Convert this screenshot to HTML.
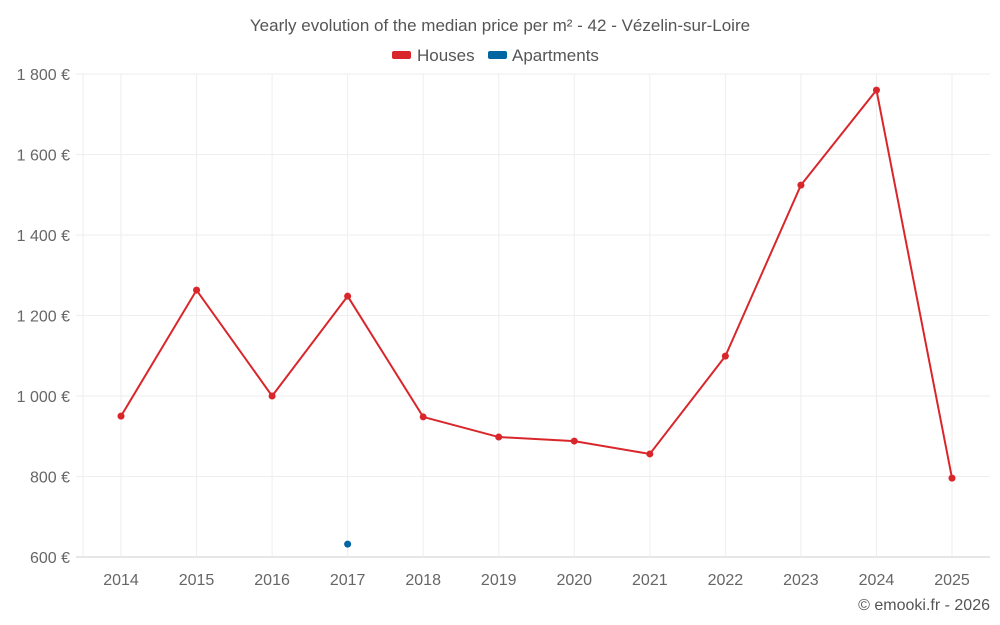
<!DOCTYPE html>
<html><head><meta charset="utf-8"><style>
body{margin:0;background:#fff;}
svg{display:block;font-family:"Liberation Sans",sans-serif;}
</style></head><body>
<svg id="c" width="1000" height="625">
<text x="500" y="31" text-anchor="middle" font-size="17" fill="#555">Yearly evolution of the median price per m² - 42 - Vézelin-sur-Loire</text>
<g><rect x="392" y="51" width="19" height="8" rx="2" fill="#d9262b"/><text x="417" y="61" font-size="17" fill="#555">Houses</text></g>
<g><rect x="488" y="51" width="19" height="8" rx="2" fill="#0065a0"/><text x="512" y="61" font-size="17" fill="#555">Apartments</text></g>
<text x="990" y="610" text-anchor="end" font-size="16" fill="#555">© emooki.fr - 2026</text>
<g id="grid"></g><g id="marks"></g>
</svg>
<script>
const years=["2014","2015","2016","2017","2018","2019","2020","2021","2022","2023","2024","2025"];
const houses=[950,1263,1000,1248,948,898,888,856,1099,1524,1760,796];
const apartments=[null,null,null,632,null,null,null,null,null,null,null,null];
const yTicks=[600,800,1000,1200,1400,1600,1800];
const ns="http://www.w3.org/2000/svg";
const L=83,R=990,T=74,B=557,ymin=600,ymax=1800;
const x=i=>121+i*(952-121)/11;
const y=v=>B-(v-ymin)/(ymax-ymin)*(B-T);
const g=document.getElementById('grid'),m=document.getElementById('marks');
function el(t,a,p){const e=document.createElementNS(ns,t);for(const k in a)e.setAttribute(k,a[k]);p.appendChild(e);return e;}
yTicks.forEach(v=>{
 const l=el('line',{x1:76,x2:R,y1:y(v),y2:y(v),stroke:v===ymin?'#ccc':'#eee'},g);
 
 
 const t=el('text',{x:70,y:y(v)+6,'text-anchor':'end','font-size':16,fill:'#666'},g);
 t.textContent=(v>=1000?Math.floor(v/1000)+' '+String(v%1000).padStart(3,'0'):v)+' €';
 
 
});
el('line',{x1:L,x2:L,y1:T,y2:B,stroke:'#eee'},g);
years.forEach((yr,i)=>{
 const l=el('line',{x1:x(i),x2:x(i),y1:T,y2:B,stroke:'#eee'},g);
 
 
 const t=el('text',{x:x(i),y:585,'text-anchor':'middle','font-size':16,fill:'#666'},g);
 t.textContent=yr;
 
 
});
const pl=el('polyline',{points:houses.map((v,i)=>x(i)+','+y(v)).join(' '),fill:'none',stroke:'#d9262b','stroke-width':2},m);


houses.forEach((v,i)=>{
 const c=el('circle',{cx:x(i),cy:y(v),r:3.5,fill:'#d9262b'},m);
 
 
});
apartments.forEach((v,i)=>{
 if(v==null)return;
 const c=el('circle',{cx:x(i),cy:y(v),r:3.5,fill:'#0065a0'},m);
 
 
});
</script>
</body></html>
